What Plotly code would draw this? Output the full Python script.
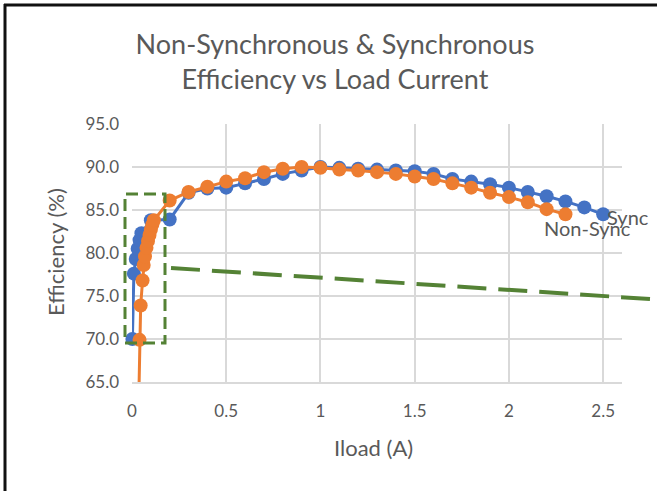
import plotly.graph_objects as go

# ---- data ----
sync_iload = [0.002, 0.01, 0.02, 0.03, 0.04, 0.05, 0.1, 0.2, 0.3, 0.4, 0.5, 0.6, 0.7, 0.8, 0.9,
              1.0, 1.1, 1.2, 1.3, 1.4, 1.5, 1.6, 1.7, 1.8, 1.9, 2.0, 2.1, 2.2, 2.3, 2.4, 2.5]
sync_eff = [70.0, 77.6, 79.3, 80.5, 81.5, 82.3, 83.8, 83.9, 87.0, 87.5, 87.6, 88.1, 88.6, 89.2, 89.6,
            90.0, 89.9, 89.8, 89.7, 89.6, 89.5, 89.2, 88.6, 88.3, 88.0, 87.6, 87.1, 86.6, 86.0, 85.3, 84.5]

nonsync_iload = [0.035, 0.04, 0.046, 0.056, 0.062, 0.069, 0.077, 0.085, 0.093, 0.1, 0.108, 0.116,
                 0.2, 0.3, 0.4, 0.5, 0.6, 0.7, 0.8, 0.9, 1.0, 1.1, 1.2, 1.3, 1.4, 1.5, 1.6, 1.7,
                 1.8, 1.9, 2.0, 2.1, 2.2, 2.3]
nonsync_eff = [62.0, 69.9, 73.9, 76.8, 78.6, 79.6, 80.6, 81.4, 82.1, 82.7, 83.3, 83.8,
               86.1, 87.1, 87.7, 88.3, 88.7, 89.4, 89.8, 90.0, 89.9, 89.7, 89.6, 89.4, 89.2, 88.9, 88.6, 88.1,
               87.6, 87.0, 86.5, 85.9, 85.1, 84.5]

x_ticks = [0, 0.5, 1, 1.5, 2, 2.5]
x_tick_labels = ["0", "0.5", "1", "1.5", "2", "2.5"]
y_ticks = [65, 70, 75, 80, 85, 90, 95]
x_range = [0, 2.6]
y_range = [65, 95]

title_text = "Non-Synchronous & Synchronous<br>Efficiency vs Load Current"
x_title = "Iload (A)"
y_title = "Efficiency (%)"
sync_name = "Sync"
nonsync_name = "Non-Sync"

# ---- styling ----
FONT = "Lato"
GRAY_TEXT = "#595959"
GRID = "#d9d9d9"
BLUE = "#4472C4"
ORANGE = "#ED7D31"
GREEN = "#548235"

W, H = 657, 491
L, R, T, B = 132, 35, 124, 109
PW, PH = W - L - R, H - T - B


def px_to_paper_x(px):
    return (px - L) / PW


def px_to_paper_y(py):
    return (H - B - py) / PH


def msize(vals, s):
    return [s if y_range[0] <= v <= y_range[1] else 0 for v in vals]


fig = go.Figure()
fig.add_trace(go.Scatter(
    x=sync_iload, y=sync_eff, name=sync_name, mode="lines+markers",
    line=dict(color=BLUE, width=3),
    marker=dict(color=BLUE, size=msize(sync_eff, 14), opacity=1, line=dict(width=0)),
    cliponaxis=False, hoverinfo="skip",
))
fig.add_trace(go.Scatter(
    x=nonsync_iload, y=nonsync_eff, name=nonsync_name, mode="lines+markers",
    line=dict(color=ORANGE, width=3),
    marker=dict(color=ORANGE, size=msize(nonsync_eff, 14), opacity=1, line=dict(width=0)),
    cliponaxis=False, hoverinfo="skip",
))

annotations = [
    dict(x=sync_iload[-1], y=sync_eff[-1], xref="x", yref="y", text=sync_name,
         showarrow=False, xanchor="left", yanchor="middle", xshift=2, yshift=-3,
         font=dict(family=FONT, size=20, color=GRAY_TEXT)),
    dict(x=nonsync_iload[-1], y=nonsync_eff[-1], xref="x", yref="y", text=nonsync_name,
         showarrow=False, xanchor="center", yanchor="middle", xshift=22, yshift=-14,
         font=dict(family=FONT, size=20, color=GRAY_TEXT)),
    dict(x=px_to_paper_x(373), y=px_to_paper_y(447), xref="paper", yref="paper", text=x_title,
         showarrow=False, xanchor="center", yanchor="middle",
         font=dict(family=FONT, size=22, color=GRAY_TEXT)),
    dict(x=px_to_paper_x(55), y=px_to_paper_y(252), xref="paper", yref="paper", text=y_title,
         showarrow=False, xanchor="center", yanchor="middle", textangle=-90,
         font=dict(family=FONT, size=22, color=GRAY_TEXT)),
]

shapes = [
    # dashed highlight box
    dict(type="rect", xref="paper", yref="paper",
         x0=px_to_paper_x(125), x1=px_to_paper_x(165), y0=px_to_paper_y(343), y1=px_to_paper_y(194),
         line=dict(color=GREEN, width=3, dash="12px,6px"), fillcolor="rgba(0,0,0,0)"),
    # dashed pointer line
    dict(type="line", xref="paper", yref="paper",
         x0=px_to_paper_x(171), y0=px_to_paper_y(268), x1=px_to_paper_x(665), y1=px_to_paper_y(300),
         line=dict(color=GREEN, width=4, dash="29px,12px")),
    # outer border (left and top)
    dict(type="line", xref="paper", yref="paper",
         x0=px_to_paper_x(5), x1=px_to_paper_x(5), y0=px_to_paper_y(H + 5), y1=px_to_paper_y(4),
         line=dict(color="#111111", width=3)),
    dict(type="line", xref="paper", yref="paper",
         x0=px_to_paper_x(4), x1=px_to_paper_x(W + 5), y0=px_to_paper_y(5), y1=px_to_paper_y(5),
         line=dict(color="#111111", width=3)),
]

fig.update_layout(
    width=W, height=H,
    margin=dict(l=L, r=R, t=T, b=B, autoexpand=False),
    paper_bgcolor="white", plot_bgcolor="white",
    showlegend=False, hovermode=False,
    title=dict(text=title_text, x=335 / W, xref="container", xanchor="center",
               y=1 - 54 / H, yref="container", yanchor="middle",
               font=dict(family=FONT, size=27, color=GRAY_TEXT)),
    annotations=annotations,
    shapes=shapes,
)
fig.update_xaxes(
    range=x_range, tickvals=x_ticks, ticktext=x_tick_labels,
    showgrid=True, gridcolor=GRID, gridwidth=2,
    showline=True, linecolor=GRID, linewidth=2,
    zeroline=False, ticks="", ticklabelstandoff=13,
    tickfont=dict(family=FONT, size=17, color=GRAY_TEXT),
)
fig.update_yaxes(
    range=y_range, tickvals=y_ticks, tickformat=".1f",
    showgrid=True, gridcolor=GRID, gridwidth=2,
    showline=False, zeroline=False, ticks="", ticklabelstandoff=12,
    tickfont=dict(family=FONT, size=17, color=GRAY_TEXT),
)

fig.write_html("out.html", config={"displayModeBar": False},
               post_script="document.body.style.margin='0px';")
